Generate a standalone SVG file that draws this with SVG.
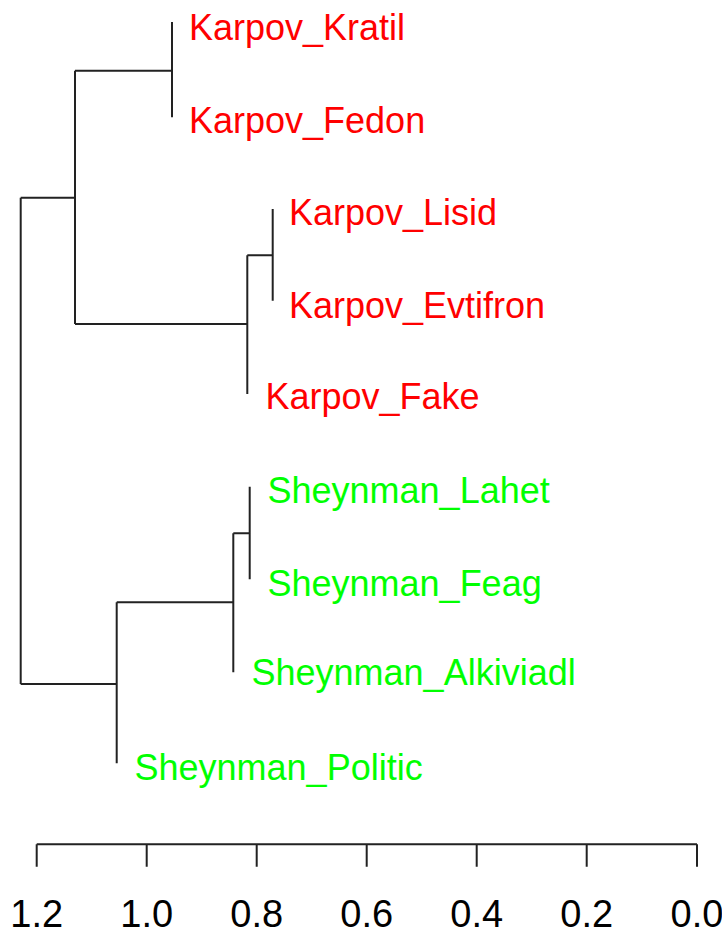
<svg xmlns="http://www.w3.org/2000/svg" width="722" height="937" viewBox="0 0 722 937">
<style>
.br{fill:none;stroke:#222;stroke-width:2;stroke-linecap:butt}
.lab{font-family:"Liberation Sans",Arial,sans-serif;font-size:36px}
.k{fill:#FF0000}
.s{fill:#00FF00}
.ax{font-family:"Liberation Sans",Arial,sans-serif;font-size:38px;fill:#000;text-anchor:middle}
</style>
<rect width="722" height="937" fill="#fff"/>
<g id="connectors">
<path class="br" d="M172,22 V117.3 M75,70.7 H172"/>
<path class="br" d="M272.7,209 V300.7 M247.3,255.3 H272.7"/>
<path class="br" d="M247.3,255.3 V394 M75,324 H247.3"/>
<path class="br" d="M75,70.7 V324 M20.7,197.7 H75"/>
<path class="br" d="M249.7,486.7 V579.3 M233.3,533.3 H249.7"/>
<path class="br" d="M233.3,533.3 V672.3 M116.7,602.3 H233.3"/>
<path class="br" d="M116.7,602.3 V763.3 M20.7,684 H116.7"/>
<path class="br" d="M20.7,197.7 V684"/>
</g>
<g id="Karpov_Kratil"><text class="lab k" x="189" y="40">Karpov_Kratil</text></g>
<g id="Karpov_Fedon"><text class="lab k" x="189" y="132.5">Karpov_Fedon</text></g>
<g id="Karpov_Lisid"><text class="lab k" x="289" y="225">Karpov_Lisid</text></g>
<g id="Karpov_Evtifron"><text class="lab k" x="289" y="317.5">Karpov_Evtifron</text></g>
<g id="Karpov_Fake"><text class="lab k" x="265.5" y="409">Karpov_Fake</text></g>
<g id="Sheynman_Lahet"><text class="lab s" x="267.5" y="503">Sheynman_Lahet</text></g>
<g id="Sheynman_Feag"><text class="lab s" x="267.5" y="596">Sheynman_Feag</text></g>
<g id="Sheynman_Alkiviadl"><text class="lab s" x="251.5" y="685">Sheynman_Alkiviadl</text></g>
<g id="Sheynman_Politic"><text class="lab s" x="134.5" y="780">Sheynman_Politic</text></g>
<g id="axis">
<path class="br" d="M36.7,844.3 H697 M36.7,844.3 V866.7 M146.7,844.3 V866.7 M256.7,844.3 V866.7 M366.7,844.3 V866.7 M476.7,844.3 V866.7 M586.7,844.3 V866.7 M697,844.3 V866.7"/>
<text class="ax" x="36.7" y="927">1.2</text>
<text class="ax" x="146.7" y="927">1.0</text>
<text class="ax" x="256.7" y="927">0.8</text>
<text class="ax" x="366.7" y="927">0.6</text>
<text class="ax" x="476.7" y="927">0.4</text>
<text class="ax" x="586.7" y="927">0.2</text>
<text class="ax" x="697" y="927">0.0</text>
</g>
</svg>
